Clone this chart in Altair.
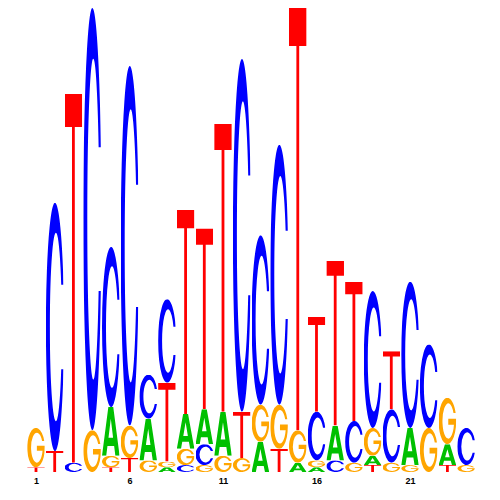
import altair as alt
import pandas as pd
from urllib.parse import quote

# ---- data: information content (bits) per letter at each position ----
positions = list(range(1, 25))
A_bits = [0, 0, 0, 0, .21, 0, .18, .02, .15, .15, .19, 0, .13, 0, .04, .02, .15, 0, .04, 0, .16, 0, .09, 0]
C_bits = [0, 1.07, .04, 1.82, .69, 1.55, .19, .36, .03, .09, 0, 1.52, .73, 1.12, 0, .21, .05, .18, .59, .23, .63, .36, 0, .16]
G_bits = [.17, 0, 0, .18, .05, .14, .05, .025, .07, .03, .07, .06, .16, .19, .14, .03, 0, .04, .12, .04, .03, .19, .20, .03]
T_bits = [.02, .09, 1.59, 0, .02, .06, 0, .34, .88, .78, 1.24, .20, 0, .10, 1.82, .41, .71, .60, .03, .25, 0, 0, .03, 0]
tick_values = [1, 6, 11, 16, 21]

colors = {"A": "#00C000", "C": "#0000FF", "G": "#FFA500", "T": "#FF0000"}

# glyph templates (unit boxes, stretched by the image mark)
glyphs = {
    "A": (100, "M0 100 L36 0 L64 0 L100 100 L76 100 L69 80 L31 80 L24 100 Z M37 63 L63 63 L50 24 Z"),
    "C": (97, "M97 33 A50 50 0 1 0 97 67 L84.5 67 A33 38 0 1 1 84.5 33 Z"),
    "G": (100, "M97 33 A50 50 0 1 0 100 50 L100 45 L55 45 L55 58 L87.3 58 A33 38 0 1 1 84.5 33 Z"),
    "T": (100, "M0 0 H100 V9 H58 V100 H42 V9 H0 Z"),
}


def glyph_url(letter):
    w, d = glyphs[letter]
    svg = (f'<svg xmlns="http://www.w3.org/2000/svg" width="{w}" height="100" '
           f'viewBox="0 0 {w} 100" preserveAspectRatio="none">'
           f'<path d="{d}" fill="{colors[letter]}" fill-rule="evenodd"/></svg>')
    return "data:image/svg+xml;charset=utf-8," + quote(svg, safe="")


rows = []
for letter, vals in (("A", A_bits), ("C", C_bits), ("G", G_bits), ("T", T_bits)):
    for p, v in zip(positions, vals):
        rows.append({"pos": p, "letter": letter, "bits": v, "url": glyph_url(letter)})
df = pd.DataFrame(rows)

chart = (
    alt.Chart(df)
    .transform_filter("datum.bits > 0")
    .transform_window(
        window=[alt.WindowFieldDef(op="sum", field="bits", **{"as": "top"})],
        groupby=["pos"],
        sort=[alt.SortField("bits", order="ascending"), alt.SortField("letter")],
        frame=[None, 0],
        ignorePeers=True,
    )
    .transform_calculate(
        bottom="datum.top - datum.bits",
        x1="datum.pos - 0.47",
        x2="datum.pos + 0.47",
    )
    .mark_image(aspect=False)
    .encode(
        x=alt.X(
            "x1:Q",
            scale=alt.Scale(domain=[0.5, 24.5], nice=False, zero=False),
            axis=alt.Axis(
                values=tick_values, title=None, grid=False, domain=False,
                ticks=False, tickSize=0, labelFontWeight="bold", labelFontSize=9,
                labelFont="Liberation Sans", labelColor="black", labelPadding=5,
                format="d",
            ),
        ),
        x2="x2:Q",
        y=alt.Y("bottom:Q", scale=alt.Scale(domain=[0, 2], nice=False), axis=None),
        y2="top:Q",
        url="url:N",
    )
    .properties(
        width=448.8,
        height=464,
        autosize="none",
        padding={"left": 18.65, "top": 0, "right": 16, "bottom": 20},
    )
    .configure_view(stroke=None)
)

chart.save("out.html", embed_options={"renderer": "svg", "actions": False})
